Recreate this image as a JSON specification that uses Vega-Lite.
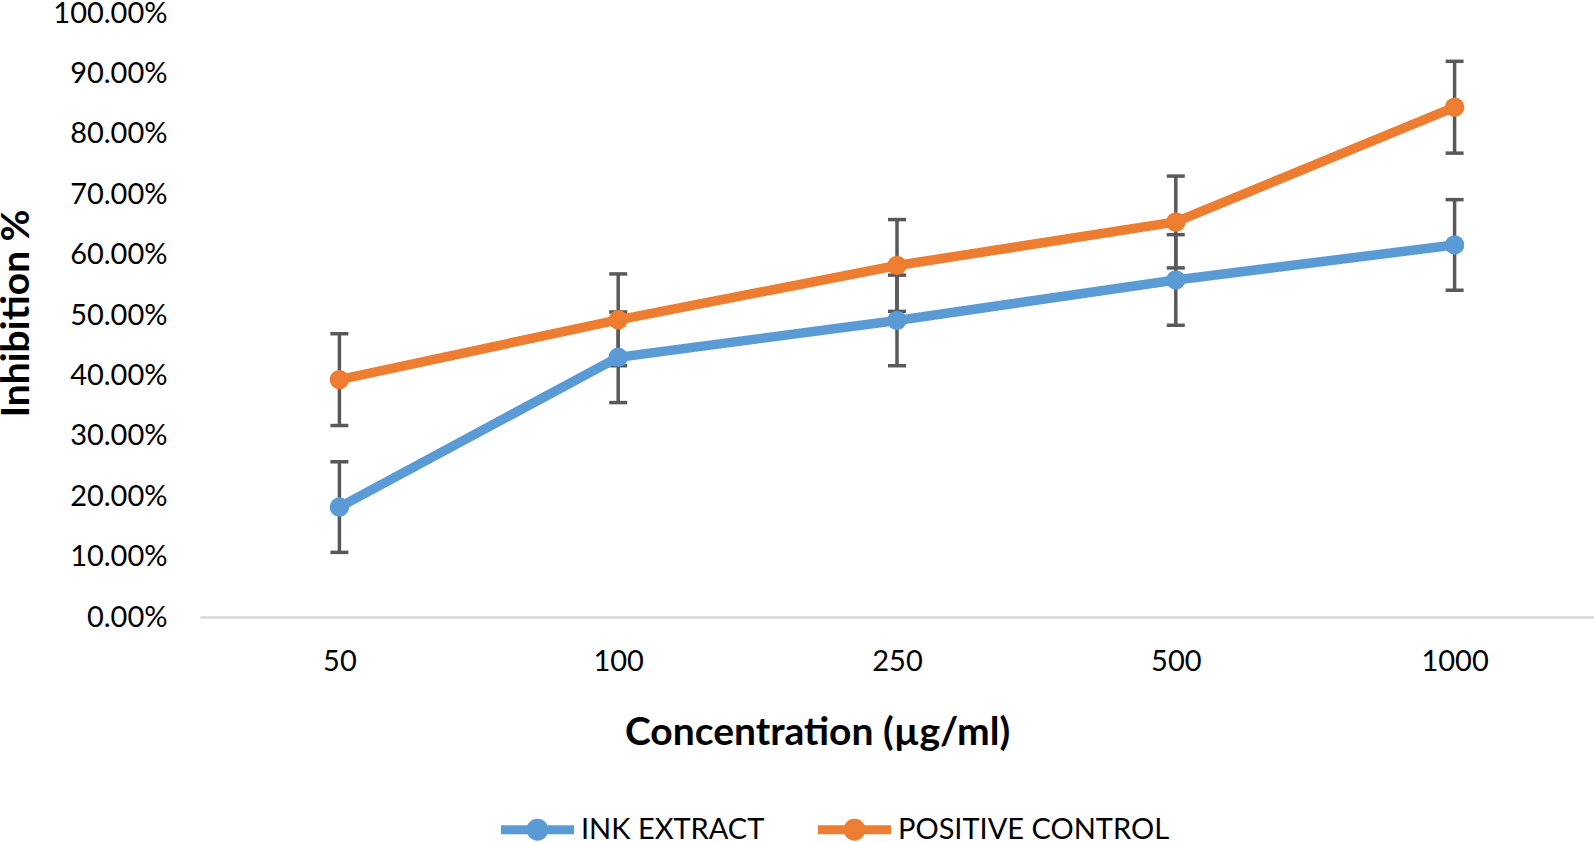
{
  "$schema": "https://vega.github.io/schema/vega-lite/v6.json",
  "width": 1394,
  "height": 604,
  "autosize": {"type": "none"},
  "padding": {"left": 200, "top": 13, "right": 0, "bottom": 225},
  "background": "white",
  "config": {
    "view": {"stroke": null},
    "font": "Lato",
    "axisX": {
      "labelAngle": 0, "ticks": false, "tickSize": 0, "domainColor": "#d9d9d9", "domainWidth": 2.5,
      "labelFontSize": 29, "labelColor": "#000", "labelPadding": 30, "labelFont": "Lato",
      "titleFontSize": 39, "titleFontWeight": "bold", "titleColor": "#000", "titleFont": "Lato",
      "titleX": 617, "titleY": 115, "titleBaseline": "middle", "grid": false
    },
    "axisY": {
      "grid": false, "domain": false, "ticks": false, "tickSize": 0,
      "labelFontSize": 29, "labelColor": "#000", "labelPadding": 33, "labelFont": "Lato",
      "titleFontSize": 39, "titleFontWeight": "bold", "titleColor": "#000", "titleFont": "Lato",
      "titleX": -184, "titleY": 300, "titleBaseline": "middle"
    },
    "legend": {
      "orient": "none", "legendX": 301, "legendY": 780, "direction": "horizontal",
      "symbolType": "M -1 -0.12 L 1 -0.12 L 1 0.12 L -1 0.12 Z M 0.3 0 A 0.3 0.3 0 1 1 -0.3 0 A 0.3 0.3 0 1 1 0.3 0 Z",
      "symbolSize": 5329, "symbolStrokeWidth": 0, "symbolOpacity": 1,
      "labelFontSize": 29, "labelOffset": 7, "columnPadding": 53, "padding": 0,
      "labelColor": "#000", "labelFont": "Lato", "labelLimit": 500
    }
  },
  "data": {
    "values": [
      {"series": "INK EXTRACT", "conc": "50", "value": 0.182, "lo": 0.107, "hi": 0.257},
      {"series": "INK EXTRACT", "conc": "100", "value": 0.430, "lo": 0.355, "hi": 0.505},
      {"series": "INK EXTRACT", "conc": "250", "value": 0.491, "lo": 0.416, "hi": 0.566},
      {"series": "INK EXTRACT", "conc": "500", "value": 0.558, "lo": 0.483, "hi": 0.633},
      {"series": "INK EXTRACT", "conc": "1000", "value": 0.616, "lo": 0.541, "hi": 0.691},
      {"series": "POSITIVE CONTROL", "conc": "50", "value": 0.393, "lo": 0.317, "hi": 0.469},
      {"series": "POSITIVE CONTROL", "conc": "100", "value": 0.492, "lo": 0.416, "hi": 0.568},
      {"series": "POSITIVE CONTROL", "conc": "250", "value": 0.582, "lo": 0.506, "hi": 0.658},
      {"series": "POSITIVE CONTROL", "conc": "500", "value": 0.654, "lo": 0.578, "hi": 0.730},
      {"series": "POSITIVE CONTROL", "conc": "1000", "value": 0.844, "lo": 0.768, "hi": 0.920}
    ]
  },
  "encoding": {
    "x": {
      "field": "conc", "type": "ordinal", "sort": ["50", "100", "250", "500", "1000"],
      "scale": {"type": "point", "padding": 0.5},
      "title": "Concentration (µg/ml)"
    }
  },
  "layer": [
    {
      "mark": {"type": "rule", "color": "#595959", "strokeWidth": 3.5},
      "encoding": {
        "y": {"field": "lo", "type": "quantitative", "title": "Inhibition %", "scale": {"domain": [0, 1]},
              "axis": {"format": ".2%", "values": [0, 0.1, 0.2, 0.3, 0.4, 0.5, 0.6, 0.7, 0.8, 0.9, 1]}},
        "y2": {"field": "hi"}
      }
    },
    {
      "mark": {"type": "tick", "color": "#595959", "thickness": 3.5, "size": 18, "opacity": 1},
      "encoding": {
        "y": {"field": "lo", "type": "quantitative", "title": "Inhibition %"}
      }
    },
    {
      "mark": {"type": "tick", "color": "#595959", "thickness": 3.5, "size": 18, "opacity": 1},
      "encoding": {
        "y": {"field": "hi", "type": "quantitative", "title": "Inhibition %"}
      }
    },
    {
      "mark": {"type": "line", "strokeWidth": 9.5},
      "encoding": {
        "y": {"field": "value", "type": "quantitative", "title": "Inhibition %"},
        "color": {"field": "series", "type": "nominal", "title": null,
                  "scale": {"domain": ["INK EXTRACT", "POSITIVE CONTROL"], "range": ["#5b9bd5", "#ed7d31"]}}
      }
    },
    {
      "mark": {"type": "point", "filled": true, "size": 380, "opacity": 1},
      "encoding": {
        "y": {"field": "value", "type": "quantitative", "title": "Inhibition %"},
        "color": {"field": "series", "type": "nominal", "title": null,
                  "scale": {"domain": ["INK EXTRACT", "POSITIVE CONTROL"], "range": ["#5b9bd5", "#ed7d31"]}}
      }
    }
  ]
}
